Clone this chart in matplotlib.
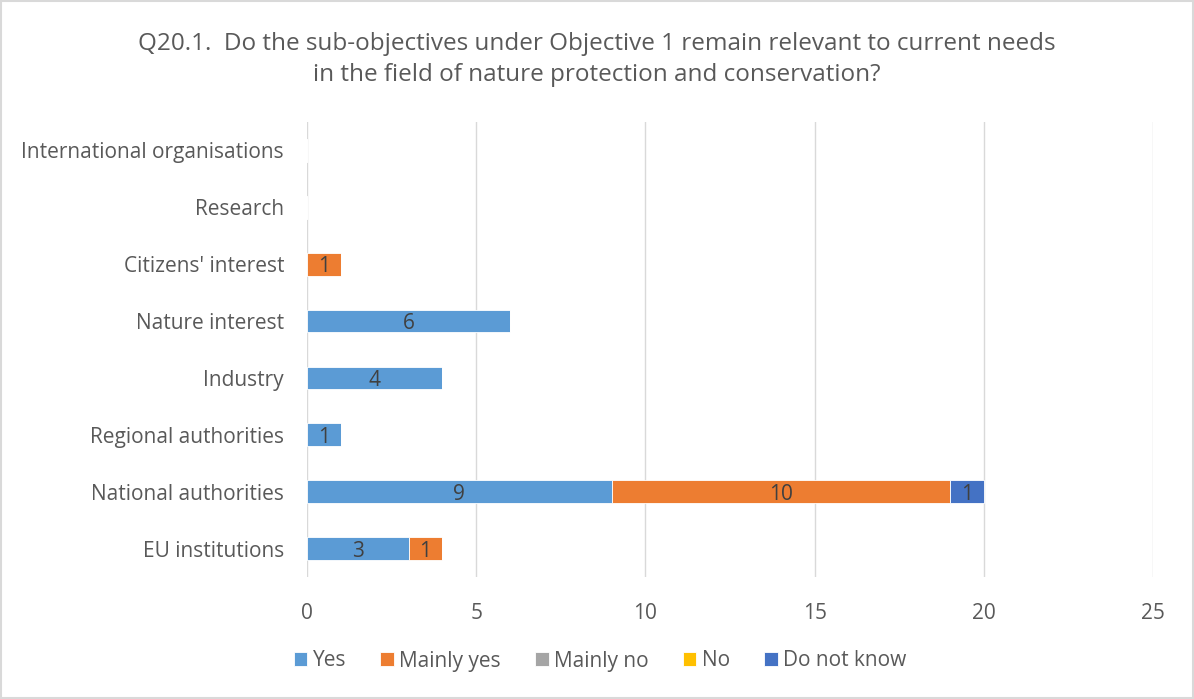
import matplotlib.pyplot as plt
import numpy as np
from matplotlib.patches import Rectangle

plt.rcParams['font.family'] = ['Open Sans', 'DejaVu Sans']

# Data (bottom to top)
categories = ["EU institutions", "National authorities", "Regional authorities",
              "Industry", "Nature interest", "Citizens' interest", "Research",
              "International organisations"]
series_names = ["Yes", "Mainly yes", "Mainly no", "No", "Do not know"]
yes = [3, 9, 1, 4, 6, 0, 0, 0]
mainly_yes = [1, 10, 0, 0, 0, 1, 0, 0]
mainly_no = [0, 0, 0, 0, 0, 0, 0, 0]
no = [0, 0, 0, 0, 0, 0, 0, 0]
do_not_know = [0, 1, 0, 0, 0, 0, 0, 0]
colors = ["#5B9BD5", "#ED7D31", "#A5A5A5", "#FFC000", "#4472C4"]

fig = plt.figure(figsize=(11.94, 6.99), dpi=100)
ax = fig.add_axes([307/1194, 1-577/699, 846/1194, 455/699])

y = np.arange(len(categories))
left = np.zeros(len(categories))
for name, vals, col in zip(series_names, [yes, mainly_yes, mainly_no, no, do_not_know], colors):
    vals = np.array(vals, dtype=float)
    bars = ax.barh(y, vals, left=left, height=0.4, color=col, label=name,
                   edgecolor='white', linewidth=0.6, zorder=3)
    for b, v in zip(bars, vals):
        if v > 0:
            ax.text(b.get_x() + b.get_width()/2, b.get_y() + b.get_height()/2, f"{int(v)}",
                    ha='center', va='center_baseline', fontsize=15, color='#404040', zorder=4)
    left += vals

ax.set_xlim(0, 25)
ax.set_ylim(-0.5, len(categories) - 0.5)
ax.set_xticks(np.arange(0, 26, 5))
ax.set_yticks(y)
ax.set_yticklabels(categories)
ax.grid(axis='x', color='#D9D9D9', linewidth=1, zorder=0)
for s in ax.spines.values():
    s.set_visible(False)
ax.tick_params(axis='both', length=0, labelsize=15, labelcolor='#595959')
ax.tick_params(axis='y', pad=16.5)
ax.tick_params(axis='x', pad=19)

fig.text(0.5, 1-44/699, "Q20.1.  Do the sub-objectives under Objective 1 remain relevant to current needs",
         ha='center', va='center', fontsize=17.5, color='#595959')
fig.text(0.5, 1-75/699, "in the field of nature protection and conservation?",
         ha='center', va='center', fontsize=17.5, color='#595959')

fig.legend(loc='center', bbox_to_anchor=(600/1194, 1-661/699), ncol=5, frameon=False,
           fontsize=15, labelcolor='#595959', handlelength=0.65, handleheight=0.65,
           handletextpad=0.25, columnspacing=1.65)

fig.patches.append(Rectangle((0.001, 0.001), 0.998, 0.997, transform=fig.transFigure,
                             fill=False, edgecolor='#D9D9D9', linewidth=1.5))

fig.savefig("out.png", dpi=100, facecolor='white')
